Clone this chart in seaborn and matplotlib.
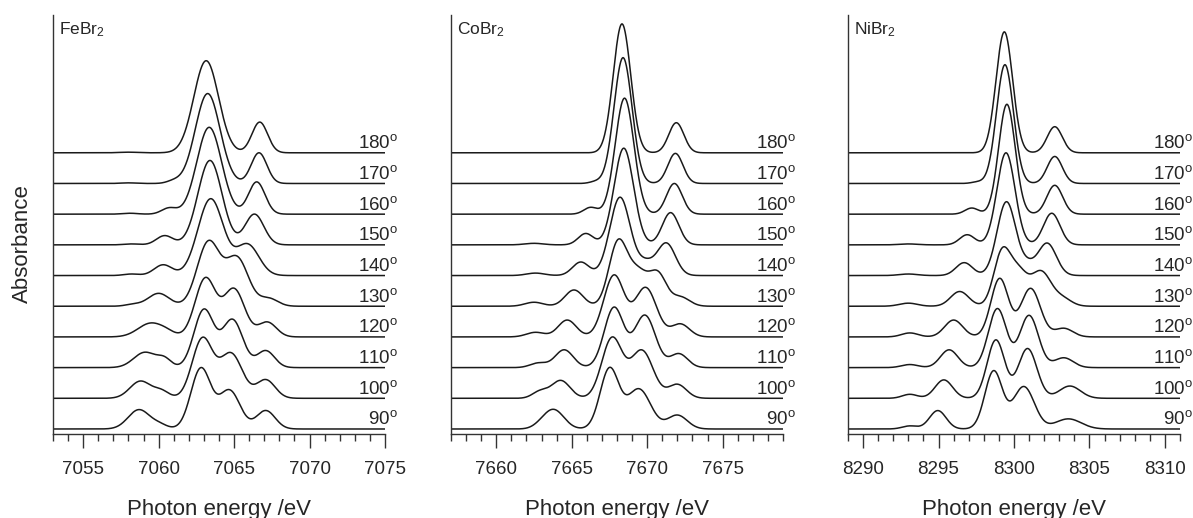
import numpy as np
import pandas as pd
import matplotlib
matplotlib.use("Agg")
import matplotlib.pyplot as plt
import matplotlib.transforms as mtransforms
from matplotlib.ticker import MultipleLocator, FixedLocator
import seaborn as sns

# ---------------- data ----------------
angles = [90, 100, 110, 120, 130, 140, 150, 160, 170, 180]
panel_names = ["FeBr$_2$", "CoBr$_2$", "NiBr$_2$"]
energy_ranges = [(7053, 7075), (7657, 7679), (8289, 8311)]
major_ticks = [[7055, 7060, 7065, 7070, 7075],
               [7660, 7665, 7670, 7675],
               [8290, 8295, 8300, 8305, 8310]]

# spectral components, one row per angle (90..180):
# centre (eV), height (offset units), width (eV)
fe_centers = [
    [7058.7, 7060.1, 7062.8, 7064.7, 7067.1],
    [7058.8, 7060.2, 7062.9, 7064.8, 7067.1],
    [7059.1, 7060.4, 7063.0, 7064.9, 7067.1],
    [7059.5, 7060.6, 7063.1, 7065.0, 7067.2],
    [7058.3, 7060.0, 7063.3, 7065.2, 7067.3],
    [7058.2, 7060.3, 7063.45, 7065.9, 7067.5],
    [7058.2, 7060.4, 7063.4, 7066.35, 7067.5],
    [7058.1, 7060.7, 7063.35, 7066.5, 7067.5],
    [7058.0, 7061.0, 7063.25, 7066.65, 7067.5],
    [7058.0, 7061.0, 7063.15, 7066.7, 7067.5],
]
fe_heights = [
    [0.63, 0.12, 1.97, 1.25, 0.60],
    [0.56, 0.22, 1.93, 1.45, 0.60],
    [0.50, 0.25, 1.88, 1.55, 0.55],
    [0.45, 0.08, 1.90, 1.55, 0.48],
    [0.06, 0.42, 2.08, 1.55, 0.25],
    [0.05, 0.35, 2.50, 1.00, 0.00],
    [0.03, 0.30, 2.75, 1.00, 0.00],
    [0.03, 0.20, 2.83, 1.05, 0.00],
    [0.02, 0.08, 2.93, 1.00, 0.00],
    [0.02, 0.00, 3.00, 1.00, 0.00],
]
fe_widths = [
    [0.72, 0.50, 0.66, 0.70, 0.62],
    [0.70, 0.50, 0.68, 0.75, 0.62],
    [0.75, 0.45, 0.66, 0.68, 0.58],
    [0.85, 0.50, 0.68, 0.70, 0.60],
    [0.50, 0.70, 0.75, 0.75, 0.60],
    [0.50, 0.60, 0.85, 0.75, 0.60],
    [0.50, 0.55, 0.80, 0.62, 0.60],
    [0.50, 0.50, 0.82, 0.55, 0.60],
    [0.50, 0.45, 0.82, 0.52, 0.60],
    [0.60, 0.50, 0.82, 0.52, 0.60],
]

co_centers = [
    [7662.9, 7663.8, 7667.5, 7669.45, 7671.0, 7672.0],
    [7662.9, 7664.27, 7667.67, 7669.65, 7671.0, 7672.0],
    [7662.8, 7664.5, 7667.8, 7669.85, 7671.0, 7672.1],
    [7662.6, 7664.7, 7667.8, 7669.9, 7671.0, 7672.2],
    [7662.5, 7665.15, 7668.05, 7669.4, 7670.75, 7672.2],
    [7662.6, 7665.6, 7668.2, 7669.9, 7671.27, 7672.5],
    [7662.5, 7665.93, 7668.45, 7670.0, 7671.55, 7672.5],
    [7662.5, 7666.25, 7668.5, 7670.0, 7671.8, 7672.5],
    [7662.5, 7666.6, 7668.4, 7670.0, 7671.87, 7672.5],
    [7662.5, 7666.6, 7668.33, 7670.0, 7671.93, 7672.5],
]
co_heights = [
    [0.06, 0.63, 1.95, 1.30, 0.00, 0.45],
    [0.22, 0.58, 1.95, 1.55, 0.00, 0.45],
    [0.15, 0.58, 1.95, 1.70, 0.00, 0.45],
    [0.15, 0.55, 2.00, 1.60, 0.00, 0.42],
    [0.13, 0.53, 2.00, 1.10, 0.95, 0.30],
    [0.08, 0.44, 2.55, 0.38, 1.05, 0.00],
    [0.05, 0.37, 3.15, 0.00, 1.05, 0.00],
    [0.00, 0.22, 3.78, 0.00, 1.00, 0.00],
    [0.00, 0.06, 4.10, 0.00, 0.98, 0.00],
    [0.00, 0.00, 4.20, 0.00, 0.98, 0.00],
]
co_widths = [
    [0.50, 0.68, 0.62, 0.78, 0.50, 0.65],
    [0.50, 0.62, 0.68, 0.75, 0.50, 0.60],
    [0.55, 0.60, 0.65, 0.70, 0.50, 0.58],
    [0.60, 0.60, 0.68, 0.72, 0.50, 0.60],
    [0.60, 0.60, 0.60, 0.70, 0.55, 0.60],
    [0.60, 0.55, 0.68, 0.55, 0.60, 0.60],
    [0.60, 0.50, 0.65, 0.55, 0.55, 0.60],
    [0.60, 0.45, 0.62, 0.55, 0.52, 0.60],
    [0.60, 0.40, 0.60, 0.55, 0.50, 0.60],
    [0.60, 0.40, 0.58, 0.55, 0.50, 0.60],
]

ni_centers = [
    [8293.1, 8294.95, 8298.65, 8300.65, 8302.0, 8303.6],
    [8293.1, 8295.35, 8298.8, 8300.9, 8302.0, 8303.7],
    [8293.1, 8295.7, 8298.9, 8301.0, 8302.0, 8303.3],
    [8293.1, 8296.0, 8299.05, 8301.1, 8302.0, 8303.3],
    [8293.0, 8296.4, 8299.2, 8300.3, 8301.8, 8303.2],
    [8293.0, 8296.7, 8299.5, 8300.9, 8302.2, 8303.5],
    [8293.0, 8296.9, 8299.47, 8301.0, 8302.5, 8303.5],
    [8293.0, 8297.2, 8299.53, 8301.0, 8302.7, 8303.5],
    [8293.0, 8297.6, 8299.4, 8301.0, 8302.7, 8303.5],
    [8293.0, 8297.6, 8299.36, 8301.0, 8302.7, 8303.5],
]
ni_heights = [
    [0.10, 0.60, 1.88, 1.38, 0.00, 0.33],
    [0.13, 0.60, 1.90, 1.62, 0.00, 0.40],
    [0.10, 0.58, 1.92, 1.70, 0.00, 0.32],
    [0.13, 0.55, 1.90, 1.58, 0.00, 0.28],
    [0.10, 0.48, 1.70, 1.05, 1.10, 0.25],
    [0.05, 0.42, 2.40, 0.30, 1.05, 0.00],
    [0.03, 0.33, 3.00, 0.00, 1.03, 0.00],
    [0.00, 0.20, 3.58, 0.00, 0.94, 0.00],
    [0.00, 0.05, 3.87, 0.00, 0.88, 0.00],
    [0.00, 0.00, 3.94, 0.00, 0.85, 0.00],
]
ni_widths = [
    [0.50, 0.55, 0.58, 0.70, 0.50, 0.85],
    [0.50, 0.58, 0.58, 0.62, 0.50, 0.70],
    [0.55, 0.58, 0.60, 0.62, 0.50, 0.62],
    [0.55, 0.60, 0.58, 0.65, 0.50, 0.60],
    [0.60, 0.60, 0.55, 0.60, 0.65, 0.60],
    [0.60, 0.55, 0.62, 0.50, 0.60, 0.60],
    [0.60, 0.50, 0.60, 0.50, 0.55, 0.60],
    [0.60, 0.45, 0.55, 0.50, 0.52, 0.60],
    [0.60, 0.40, 0.56, 0.50, 0.50, 0.60],
    [0.60, 0.40, 0.55, 0.50, 0.50, 0.60],
]

panels = [(fe_centers, fe_heights, fe_widths),
          (co_centers, co_heights, co_widths),
          (ni_centers, ni_heights, ni_widths)]

# ---------------- style ----------------
sns.set_style("ticks")
plt.rcParams["font.family"] = ["Liberation Sans", "DejaVu Sans"]
plt.rcParams["mathtext.fontset"] = "custom"
plt.rcParams["mathtext.rm"] = "Liberation Sans"
plt.rcParams["mathtext.it"] = "Liberation Sans:italic"
plt.rcParams["mathtext.bf"] = "Liberation Sans:bold"

W, H = 1193, 518
fig = plt.figure(figsize=(W / 100, H / 100), dpi=100)

ax_left_px = [53, 451, 848]
ax_w_px = 332
ax_top_px, ax_bot_px = 15, 433.5

line_col = "#1a1a1a"

for k, (cen, hei, wid) in enumerate(panels):
    ax = fig.add_axes([ax_left_px[k] / W, 1 - ax_bot_px / H,
                       ax_w_px / W, (ax_bot_px - ax_top_px) / H])
    lo, hi = energy_ranges[k]
    energy = np.linspace(lo, hi, 1101)
    rows = []
    for i, ang in enumerate(angles):
        sig = np.zeros_like(energy)
        for c, h, w in zip(cen[i], hei[i], wid[i]):
            sig += h * np.exp(-0.5 * ((energy - c) / w) ** 2)
        rows.append(pd.DataFrame({"energy": energy,
                                  "absorbance": sig + i,
                                  "angle": ang}))
    df = pd.concat(rows, ignore_index=True)
    sns.lineplot(data=df, x="energy", y="absorbance", units="angle",
                 estimator=None, color=line_col, lw=1.1, ax=ax,
                 legend=False, sort=False)

    ax.set_xlim(lo, hi)
    ax.set_ylim(-0.147, 13.49)
    ax.xaxis.set_major_locator(FixedLocator(major_ticks[k]))
    ax.xaxis.set_minor_locator(MultipleLocator(1))
    ax.tick_params(axis="x", which="major", length=10, width=1.0,
                   direction="out", pad=9.5, labelsize=13.5, color="#333333")
    ax.tick_params(axis="x", which="minor", length=5, width=1.0,
                   direction="out", color="#333333")
    ax.set_yticks([])
    for s in ["top", "right"]:
        ax.spines[s].set_visible(False)
    for s in ["left", "bottom"]:
        ax.spines[s].set_linewidth(1.0)
        ax.spines[s].set_color("#333333")
    ax.set_xlabel("Photon energy /eV", fontsize=16, labelpad=15.5)
    ax.set_ylabel("")

    ax.text(0.018, 0.988, panel_names[k], transform=ax.transAxes,
            ha="left", va="top", fontsize=12.5)

    trans = mtransforms.blended_transform_factory(ax.transAxes, ax.transData)
    for i, ang in enumerate(angles):
        ax.text(1.039, i + 0.15, f"{ang}" + r"$^{\mathrm{o}}$", transform=trans,
                ha="right", va="baseline", fontsize=13.5, clip_on=False)

fig.text(22 / W, 1 - 244 / H, "Absorbance", rotation=90,
         ha="center", va="center", fontsize=16)

fig.savefig("out.png", dpi=100)
